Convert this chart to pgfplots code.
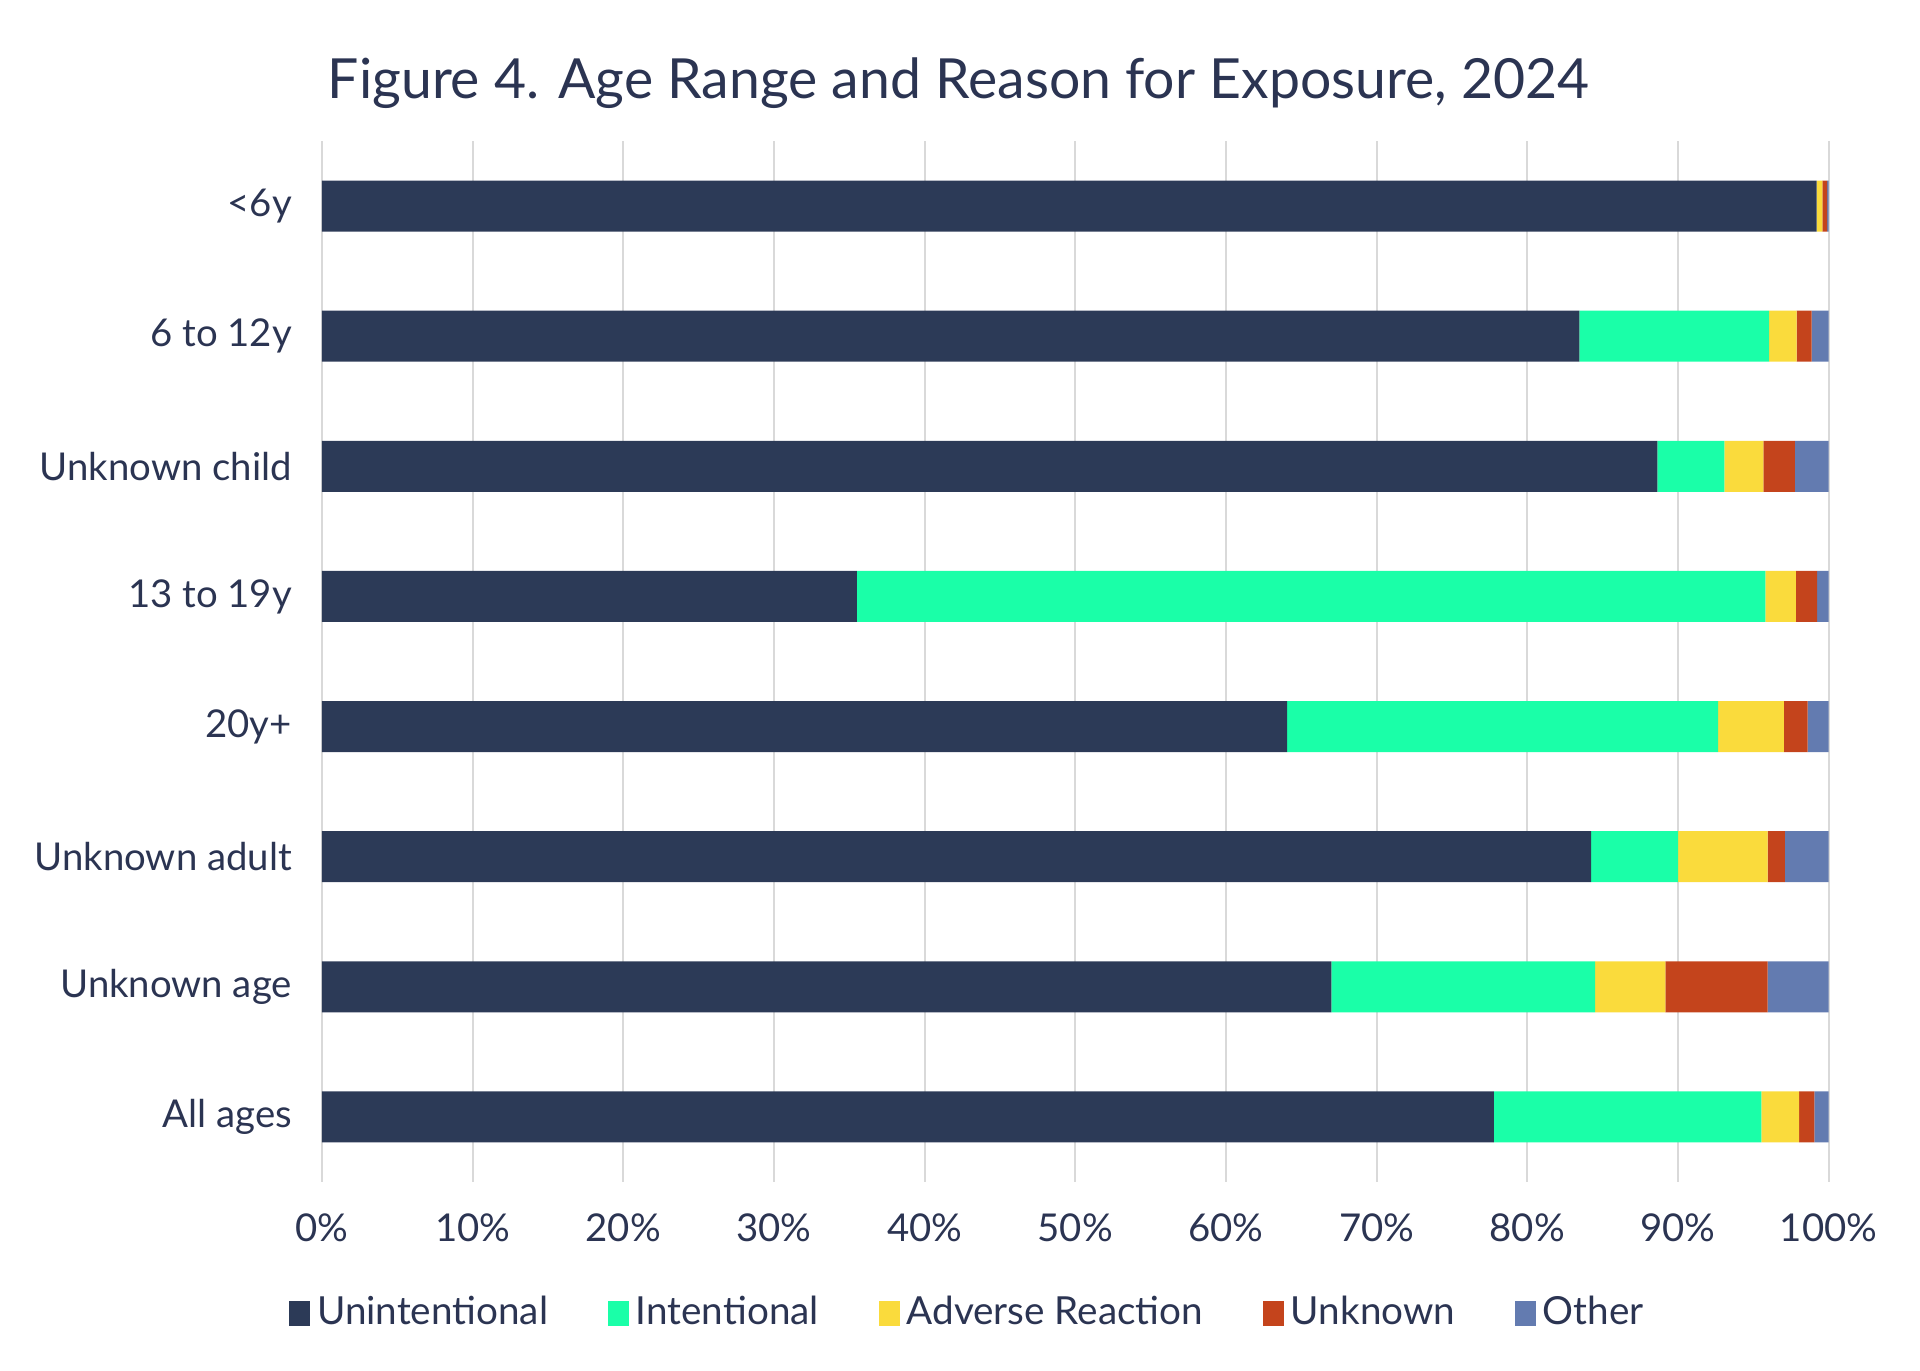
\documentclass[border=0pt]{standalone}
\usepackage{pgfplots}
\pgfplotsset{compat=1.18}
\usepackage{fontspec}
\setmainfont{Lato}

\definecolor{txt}{HTML}{2B3452}
\definecolor{cUnint}{HTML}{2C3A57}
\definecolor{cInt}{HTML}{1AFFA8}
\definecolor{cAdv}{HTML}{FADB3C}
\definecolor{cUnk}{HTML}{C4441C}
\definecolor{cOth}{HTML}{637BB0}
\definecolor{gridc}{HTML}{D9D9D9}

\begin{document}
\begin{tikzpicture}
% fixed page size (1920x1371 px at 3.333 px/pt)
\path[use as bounding box] (-96.6pt,-56.7pt) rectangle (479.4pt,354.6pt);
\begin{axis}[
  scale only axis,
  width=452pt, height=312.3pt,
  xbar stacked,
  bar width=15.3pt,
  xmin=0, xmax=100,
  ymin=-0.5, ymax=7.5,
  y dir=reverse,
  xtick={0,10,...,100},
  xticklabel={\pgfmathprintnumber{\tick}\%},
  ytick={0,...,7},
  yticklabels={<6y,6 to 12y,Unknown child,13 to 19y,20y+,Unknown adult,Unknown age,All ages},
  /pgf/number format/assume math mode=true,
  tick label style={font=\fontsize{11.5}{13}\selectfont, text=txt},
  xticklabel style={yshift=-6pt},
  yticklabel style={xshift=-5.5pt},
  major tick length=0pt,
  axis line style={draw=none},
  xmajorgrids,
  grid style={gridc, line width=0.6pt},
  every axis plot/.append style={draw=none},
  legend columns=5,
  legend style={at={(0.43,-0.126)}, anchor=center, draw=none, fill=none,
    font=\fontsize{11.6}{13}\selectfont, text=txt,
    /tikz/every even column/.append style={column sep=16pt}},
  legend cell align=left,
  legend image code/.code={\fill[#1] (0pt,-3.7pt) rectangle (6.3pt,3.7pt);},
]
\addplot[fill=cUnint] coordinates {
(99.2,0) (83.45,1) (88.63,2) (35.5,3) (64.06,4) (84.24,5) (67.0,6) (77.78,7)};
\addplot[fill=cInt] coordinates {
(0,0) (12.59,1) (4.45,2) (60.3,3) (28.6,4) (5.76,5) (17.5,6) (17.75,7)};
\addplot[fill=cAdv] coordinates {
(0.38,0) (1.84,1) (2.58,2) (2.03,3) (4.37,4) (5.94,5) (4.67,6) (2.51,7)};
\addplot[fill=cUnk] coordinates {
(0.32,0) (0.99,1) (2.1,2) (1.4,3) (1.57,4) (1.16,5) (6.77,6) (1.01,7)};
\addplot[fill=cOth] coordinates {
(0.1,0) (1.13,1) (2.24,2) (0.77,3) (1.4,4) (2.9,5) (4.06,6) (0.95,7)};
\legend{Unintentional, Intentional, Adverse Reaction, Unknown, Other}
\end{axis}
\node[anchor=base, text=txt, font=\fontsize{16.6}{19}\selectfont] at (191pt,325pt)
  {Figure 4. Age Range and Reason for Exposure, 2024};
\end{tikzpicture}
\end{document}
